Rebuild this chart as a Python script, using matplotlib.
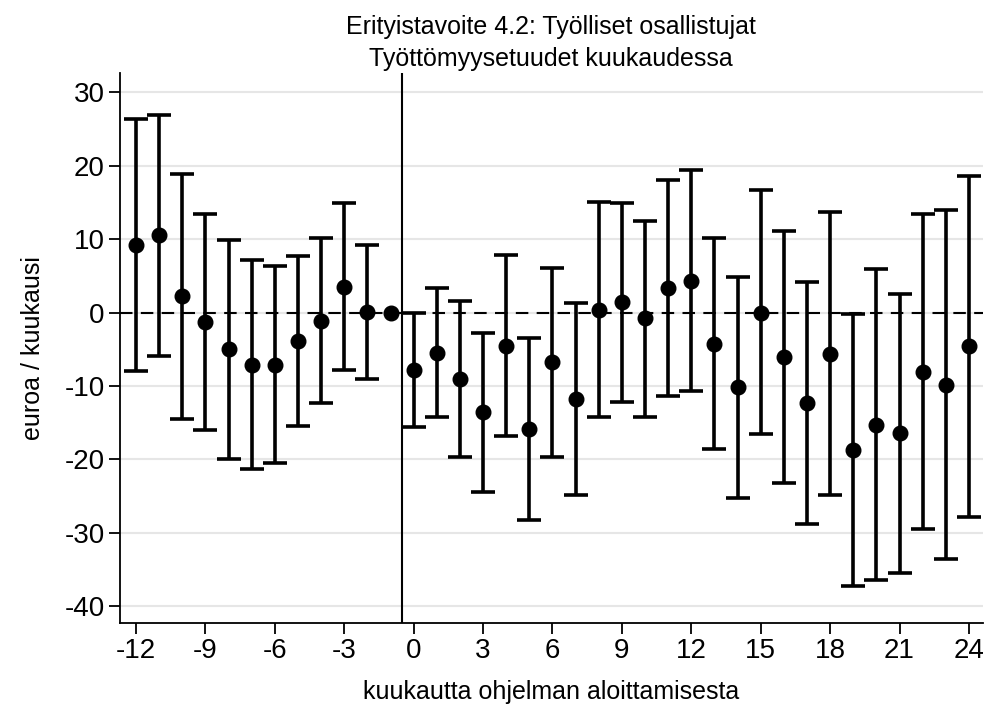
import numpy as np
import matplotlib.pyplot as plt

plt.rcParams['font.family'] = ['Liberation Sans', 'DejaVu Sans']
plt.rcParams['axes.unicode_minus'] = False

# kuukaudet suhteessa aloitukseen
months = list(range(-12, 25))
# piste-estimaatit
coef = [9.2, 10.5, 2.2, -1.3, -5.0, -7.1, -7.2, -3.9, -1.1, 3.5, 0.1, 0.0,
        -7.8, -5.5, -9.1, -13.6, -4.5, -15.9, -6.8, -11.8, 0.4, 1.4, -0.8, 3.3,
        4.3, -4.3, -10.2, 0.0, -6.0, -12.3, -5.6, -18.7, -15.3, -16.4, -8.1, -9.9, -4.6]
# luottamusvälit
ci_lo = [-8.0, -5.9, -14.5, -16.0, -19.9, -21.3, -20.5, -15.4, -12.3, -7.8, -9.0, 0.0,
         -15.6, -14.2, -19.7, -24.4, -16.8, -28.3, -19.7, -24.9, -14.2, -12.2, -14.2, -11.3,
         -10.7, -18.6, -25.3, -16.6, -23.2, -28.8, -24.9, -37.2, -36.4, -35.4, -29.5, -33.5, -27.9]
ci_hi = [26.3, 26.9, 18.9, 13.4, 9.9, 7.2, 6.3, 7.7, 10.1, 14.9, 9.2, 0.0,
         0.0, 3.3, 1.6, -2.8, 7.8, -3.5, 6.0, 1.3, 15.0, 14.9, 12.5, 18.1,
         19.4, 10.2, 4.9, 16.7, 11.1, 4.2, 13.7, -0.2, 5.9, 2.5, 13.4, 13.9, 18.6]

x = np.array(months)
b = np.array(coef)
lo = np.array(ci_lo)
hi = np.array(ci_hi)
has_ci = x != -1

fig = plt.figure(figsize=(10.07, 7.09), dpi=100)
ax = fig.add_axes([0.119, 0.122, 0.857, 0.775])

ax.axhline(0, color='black', lw=1.5, ls=(0, (6, 4)), zorder=2)
ax.axvline(-0.5, color='black', lw=1.5, zorder=2)

ax.errorbar(x[has_ci], b[has_ci],
            yerr=[b[has_ci] - lo[has_ci], hi[has_ci] - b[has_ci]],
            fmt='none', ecolor='black', elinewidth=2.6, capsize=8.5, capthick=2.6, zorder=3)
ax.plot(x, b, 'o', color='black', ms=10.5, zorder=4)

ax.set_xlim(-12.7, 24.6)
ax.set_ylim(-42.2, 32.6)
ax.set_xticks(range(-12, 25, 3))
ax.set_yticks(range(-40, 31, 10))
ax.yaxis.grid(True, color='#e6e6e6', lw=1.5)
ax.set_axisbelow(True)
for s in ['top', 'right']:
    ax.spines[s].set_visible(False)
for s in ['left', 'bottom']:
    ax.spines[s].set_linewidth(1.3)
ax.tick_params(labelsize=20, length=8, width=1.3, direction='out', pad=3)

ax.set_xlabel('kuukautta ohjelman aloittamisesta', fontsize=18, labelpad=12)
ax.set_ylabel('euroa / kuukausi', fontsize=18, labelpad=14)
ax.set_title('Erityistavoite 4.2: Työlliset osallistujat\nTyöttömyysetuudet kuukaudessa',
             fontsize=18, linespacing=1.4, pad=5)

plt.savefig('out.png')
